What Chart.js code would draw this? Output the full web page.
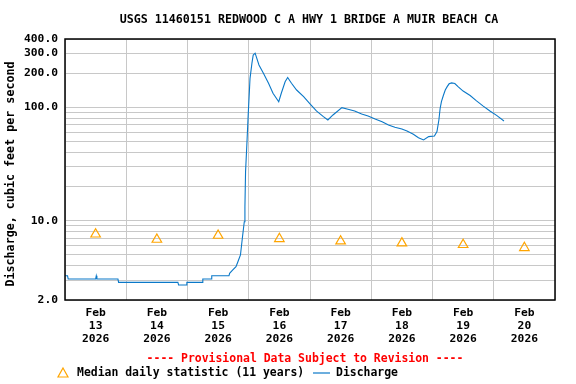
<!DOCTYPE html>
<html>
<head>
<meta charset="utf-8">
<script src="https://cdn.jsdelivr.net/npm/chart.js@4.4.1/dist/chart.umd.min.js"></script>
<style>
  html, body { margin: 0; padding: 0; background: #fff; }
  canvas { display: block; }
</style>
</head>
<body>
<canvas id="chart" width="576" height="384"></canvas>
<script>
// === DATA ===
const startTime = '2026-02-13T00:00';

const dischargeTimes = [
  '2026-02-13T00:00', '2026-02-13T01:00', '2026-02-13T01:15', '2026-02-13T12:00', '2026-02-13T12:15',
  '2026-02-13T12:30', '2026-02-13T20:45', '2026-02-13T21:00', '2026-02-14T20:15', '2026-02-14T20:30',
  '2026-02-14T23:30', '2026-02-14T23:45', '2026-02-15T05:45', '2026-02-15T06:00', '2026-02-15T09:15',
  '2026-02-15T09:30', '2026-02-15T16:15', '2026-02-15T16:30', '2026-02-15T17:45', '2026-02-15T19:00',
  '2026-02-15T19:45', '2026-02-15T20:45', '2026-02-15T21:30', '2026-02-15T22:15', '2026-02-15T22:30',
  '2026-02-15T22:45', '2026-02-15T23:15', '2026-02-15T23:45', '2026-02-16T00:30', '2026-02-16T01:15',
  '2026-02-16T01:45', '2026-02-16T02:30', '2026-02-16T04:00', '2026-02-16T05:45', '2026-02-16T07:45',
  '2026-02-16T09:30', '2026-02-16T11:45', '2026-02-16T12:45', '2026-02-16T14:15', '2026-02-16T15:15',
  '2026-02-16T16:45', '2026-02-16T18:45', '2026-02-16T21:30', '2026-02-17T00:00', '2026-02-17T02:30',
  '2026-02-17T05:15', '2026-02-17T07:00', '2026-02-17T09:00', '2026-02-17T12:30', '2026-02-17T14:30',
  '2026-02-17T17:30', '2026-02-17T20:15', '2026-02-17T22:45', '2026-02-18T01:30', '2026-02-18T04:15',
  '2026-02-18T06:45', '2026-02-18T09:15', '2026-02-18T12:00', '2026-02-18T14:00', '2026-02-18T16:30',
  '2026-02-18T18:30', '2026-02-18T20:30', '2026-02-18T22:30', '2026-02-19T00:45', '2026-02-19T01:45',
  '2026-02-19T02:30', '2026-02-19T03:00', '2026-02-19T03:30', '2026-02-19T04:15', '2026-02-19T05:00',
  '2026-02-19T05:45', '2026-02-19T06:30', '2026-02-19T07:30', '2026-02-19T08:45', '2026-02-19T10:00',
  '2026-02-19T12:00', '2026-02-19T14:45', '2026-02-19T17:15', '2026-02-19T19:45', '2026-02-19T22:30',
  '2026-02-20T01:15', '2026-02-20T04:00'
];

const dischargeValues = [
  3.27, 3.27, 3.06, 3.06, 3.27,
  3.06, 3.06, 2.86, 2.86, 2.71,
  2.71, 2.86, 2.86, 3.06, 3.06,
  3.27, 3.27, 3.44, 3.68, 3.93,
  4.35, 4.99, 7.04, 9.8, 13.3,
  27.1, 46.5, 82.7, 180, 245,
  289, 300, 236, 200, 163,
  133, 112, 133, 168, 183,
  163, 142, 124, 107, 92.8,
  82.7, 77.3, 85.6, 99.3, 96.7,
  92.8, 87.4, 83.9, 79, 74.7,
  69.9, 66.6, 64.4, 61.8, 57.8,
  54, 51.5, 55.1, 55.9, 61,
  77.3, 98, 112, 127, 142,
  152, 161, 164, 162, 152,
  139, 127, 114, 103, 92.8,
  84.4, 75.8
];

const medianTimes = [
  '2026-02-13T12:00', '2026-02-14T12:00', '2026-02-15T12:00', '2026-02-16T12:00',
  '2026-02-17T12:00', '2026-02-18T12:00', '2026-02-19T12:00', '2026-02-20T12:00'
];
const medianValues = [7.6, 6.83, 7.41, 6.93, 6.6, 6.34, 6.14, 5.77];

const dayLabels = [
  ['Feb', '13', '2026'], ['Feb', '14', '2026'], ['Feb', '15', '2026'], ['Feb', '16', '2026'],
  ['Feb', '17', '2026'], ['Feb', '18', '2026'], ['Feb', '19', '2026'], ['Feb', '20', '2026']
];

const yGridValues = [2, 3, 4, 5, 6, 7, 8, 9, 10, 20, 30, 40, 50, 60, 70, 80, 90, 100, 200, 300, 400];
const yLabelValues = [2, 10, 100, 200, 300, 400];

const titleText = 'USGS 11460151 REDWOOD C A HWY 1 BRIDGE A MUIR BEACH CA';
const yTitleText = 'Discharge, cubic feet per second';
const provisionalText = '---- Provisional Data Subject to Revision ----';
const medianLabel = 'Median daily statistic (11 years)';
const dischargeLabel = 'Discharge';

// === HELPERS ===
const FONT = '"DejaVu Sans Mono", "Liberation Mono", monospace';
const BLUE = '#0A78C8';
const ORANGE = '#FFA500';

function heures(t) {
  return (Date.parse(t + ':00Z') - Date.parse(startTime + ':00Z')) / 3600000;
}

const dischargePoints = dischargeTimes.map((t, i) => ({ x: heures(t), y: dischargeValues[i] }));
const medianPoints = medianTimes.map((t, i) => ({ x: heures(t), y: medianValues[i] }));

// textes dessinés autour du graphique
const decor = {
  id: 'decor',
  afterDraw(chart) {
    const ctx = chart.ctx;
    const a = chart.chartArea;
    ctx.save();

    ctx.strokeStyle = '#000';
    ctx.lineWidth = 1.5;
    ctx.strokeRect(a.left, a.top, a.right - a.left, a.bottom - a.top);

    ctx.textBaseline = 'middle';
    ctx.fillStyle = '#000';
    ctx.font = 'bold 11.65px ' + FONT;
    ctx.textAlign = 'center';
    ctx.fillText(titleText, 309, 20);

    // titre de l'axe Y
    ctx.save();
    ctx.translate(11, 174);
    ctx.rotate(-Math.PI / 2);
    ctx.font = 'bold 11.7px ' + FONT;
    ctx.fillText(yTitleText, 0, 0);
    ctx.restore();

    ctx.fillStyle = '#FF0000';
    ctx.font = 'bold 11.45px ' + FONT;
    ctx.fillText(provisionalText, 305, 359);

    // légende
    ctx.textAlign = 'left';
    ctx.fillStyle = '#000';
    ctx.fillText(medianLabel, 77, 373);
    ctx.fillText(dischargeLabel, 336, 373);

    ctx.strokeStyle = ORANGE;
    ctx.lineWidth = 1.2;
    ctx.beginPath();
    ctx.moveTo(63, 368);
    ctx.lineTo(68, 377);
    ctx.lineTo(58, 377);
    ctx.closePath();
    ctx.stroke();

    ctx.strokeStyle = BLUE;
    ctx.beginPath();
    ctx.moveTo(313, 373);
    ctx.lineTo(330, 373);
    ctx.stroke();

    ctx.restore();
  }
};

new Chart(document.getElementById('chart'), {
  type: 'line',
  data: {
    datasets: [
      {
        label: dischargeLabel,
        data: dischargePoints,
        borderColor: BLUE,
        borderWidth: 1.1,
        pointRadius: 0,
        tension: 0,
        fill: false
      },
      {
        label: medianLabel,
        data: medianPoints,
        showLine: false,
        pointStyle: 'triangle',
        pointRadius: 5.5,
        pointBorderColor: ORANGE,
        pointBackgroundColor: 'rgba(0,0,0,0)',
        pointBorderWidth: 1.2
      }
    ]
  },
  options: {
    responsive: false,
    animation: false,
    events: [],
    layout: { padding: { top: 39, right: 21, left: 0, bottom: 0 } },
    plugins: {
      legend: { display: false },
      title: { display: false },
      tooltip: { enabled: false }
    },
    scales: {
      x: {
        type: 'linear',
        min: 0,
        max: 192,
        afterBuildTicks: scale => {
          const ticks = [];
          for (let h = 0; h <= 192; h += 12) ticks.push({ value: h });
          scale.ticks = ticks;
        },
        afterFit: scale => { scale.height = 84; },
        grid: {
          drawTicks: false,
          color: c => (c.tick && c.tick.value % 24 === 0) ? '#c8c8c8' : 'rgba(0,0,0,0)',
          lineWidth: 1
        },
        border: { display: false },
        ticks: {
          autoSkip: false,
          maxRotation: 0,
          padding: 7,
          color: '#000',
          font: { family: FONT, size: 11.3, weight: 'bold', lineHeight: 1.13 },
          callback: v => (v % 24 === 12) ? dayLabels[(v - 12) / 24] : ''
        }
      },
      y: {
        type: 'logarithmic',
        min: 2,
        max: 400,
        afterBuildTicks: scale => {
          scale.ticks = yGridValues.map(v => ({ value: v }));
        },
        afterFit: scale => { scale.width = 65; },
        grid: { drawTicks: false, color: '#c8c8c8', lineWidth: 1 },
        border: { display: false },
        ticks: {
          autoSkip: false,
          padding: 7,
          color: '#000',
          font: { family: FONT, size: 11.3, weight: 'bold' },
          callback: v => yLabelValues.includes(v) ? v.toFixed(1) : ''
        }
      }
    }
  },
  plugins: [decor]
});
</script>
</body>
</html>
